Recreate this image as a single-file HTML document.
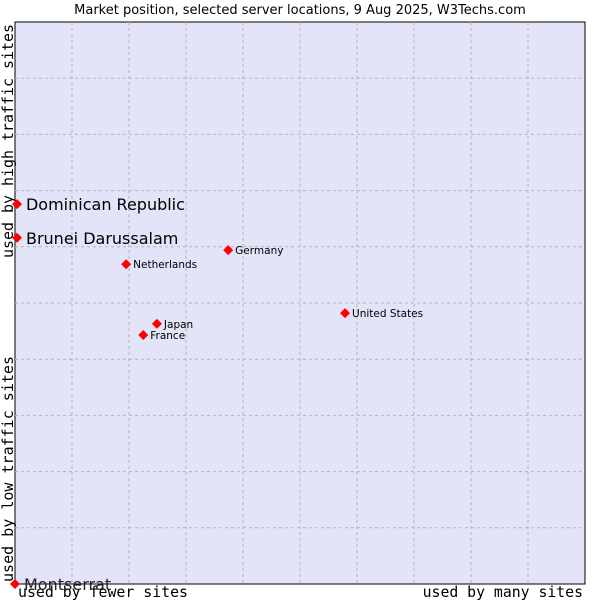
<!DOCTYPE html>
<html><head><meta charset="utf-8"><style>
body{margin:0;background:#fff;width:600px;height:600px;overflow:hidden}
svg{display:block}
</style></head><body>
<svg id="chart" width="600" height="600" font-family="'DejaVu Sans', 'Liberation Sans', sans-serif">
<text x="300" y="14" text-anchor="middle" font-size="13" fill="#000">Market position, selected server locations, 9 Aug 2025, W3Techs.com</text>
<rect x="15" y="22" width="570" height="562" fill="#e3e4f8" stroke="#000" stroke-width="1"/>
<g id="grid"></g>
<text transform="translate(13,141) rotate(-90)" text-anchor="middle" textLength="234" lengthAdjust="spacingAndGlyphs" font-family="'DejaVu Sans Mono','Liberation Mono',monospace" font-size="15">used by high traffic sites</text>
<text transform="translate(13,469) rotate(-90)" text-anchor="middle" textLength="226" lengthAdjust="spacingAndGlyphs" font-family="'DejaVu Sans Mono','Liberation Mono',monospace" font-size="15">used by low traffic sites</text>
<text x="18" y="597" textLength="170" lengthAdjust="spacingAndGlyphs" font-family="'DejaVu Sans Mono','Liberation Mono',monospace" font-size="15">used by fewer sites</text>
<text x="583" y="597" text-anchor="end" font-family="'DejaVu Sans Mono','Liberation Mono',monospace" font-size="14.8">used by many sites</text>
<g id="points"></g>
</svg>
<script>
const countries=["Dominican Republic","Brunei Darussalam","Netherlands","Germany","United States","Japan","France","Montserrat"];
const xValues=[0.35,0.35,19.5,37.4,57.9,24.9,22.5,0];
const yValues=[67.6,61.6,56.9,59.4,48.2,46.3,44.3,0];
const bigLabel=[true,true,false,false,false,false,false,true];
const NS="http://www.w3.org/2000/svg";
const X0=15,X1=585,Y0=584,Y1=22;
const sx=v=>X0+v/100*(X1-X0), sy=v=>Y0-v/100*(Y0-Y1);
const grid=document.getElementById('grid');
for(let i=1;i<10;i++){
  const l=document.createElementNS(NS,'line');
  l.setAttribute('x1',sx(i*10));l.setAttribute('x2',sx(i*10));l.setAttribute('y1',Y1);l.setAttribute('y2',Y0);
  l.setAttribute('stroke','#b4b4b4');l.setAttribute('stroke-dasharray','3,3');
  
  
  grid.appendChild(l);
  const h=document.createElementNS(NS,'line');
  h.setAttribute('y1',sy(i*10));h.setAttribute('y2',sy(i*10));h.setAttribute('x1',X0);h.setAttribute('x2',X1);
  h.setAttribute('stroke','#b4b4b4');h.setAttribute('stroke-dasharray','3,3');
  
  
  grid.appendChild(h);
}
const pts=document.getElementById('points');
countries.forEach((c,i)=>{
  const x=sx(xValues[i]),y=sy(yValues[i]);
  const g=document.createElementNS(NS,'g');
  
  
  const d=document.createElementNS(NS,'polygon');
  d.setAttribute('points',`${x},${y-5} ${x+5},${y} ${x},${y+5} ${x-5},${y}`);
  d.setAttribute('fill','#f00');
  g.appendChild(d);
  const t=document.createElementNS(NS,'text');
  t.setAttribute('x',x+(bigLabel[i]?9:7));
  t.setAttribute('y',y+(bigLabel[i]?6:4));
  t.setAttribute('font-size',bigLabel[i]?'16':'10.5');
  t.setAttribute('fill',c==="Montserrat"?'#222':'#000');
  t.textContent=c;
  
  
  g.appendChild(t);
  pts.appendChild(g);
});
</script>
</body></html>
